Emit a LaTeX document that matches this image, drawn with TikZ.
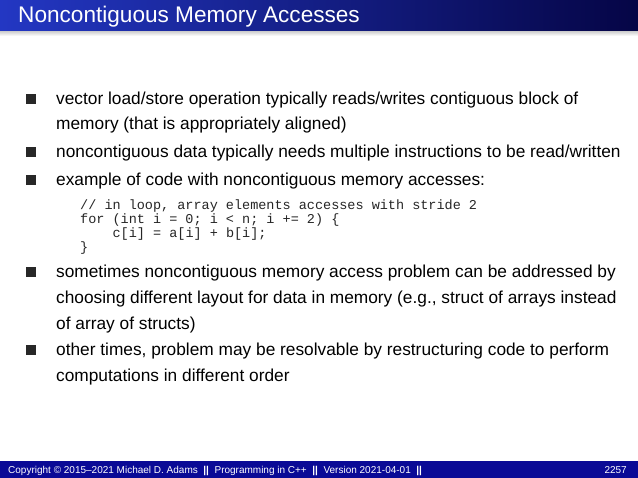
\documentclass[tikz,border=0pt]{standalone}
\usepackage{fontspec}
\setmainfont{Liberation Sans}
\setmonofont{Liberation Mono}
\definecolor{hl}{RGB}{35,55,195}
\definecolor{hr}{RGB}{5,5,70}
\definecolor{foot}{RGB}{10,10,150}
\definecolor{bul}{RGB}{40,40,40}
\begin{document}
\begin{tikzpicture}[x=1pt,y=-1pt,
  txt/.style={anchor=base west,inner sep=0pt,font=\fontsize{17.3}{20}\selectfont},
  code/.style={anchor=base west,inner sep=0pt,text=black!85,font=\ttfamily\fontsize{13.5}{14}\selectfont},
  ft/.style={anchor=base west,inner sep=0pt,text=white,font=\fontsize{10}{11}\selectfont},
  bx/.style={fill=bul,minimum size=10.5pt,inner sep=0pt}]
\useasboundingbox (0,0) rectangle (638,478);
\fill[white] (0,0) rectangle (638,478);
\fill[top color=gray!40,bottom color=white] (0,31) rectangle (638,36);
\shade[left color=hl,right color=hr] (0,0) rectangle (638,31);
\node[anchor=base west,inner sep=0pt,text=white,font=\fontsize{22.6}{26}\selectfont] (title) at (18,23) {Noncontiguous Memory Accesses};
% bullets
\node[bx] (b1) at (31,99) {};
\node[bx] (b2) at (31,152) {};
\node[bx] (b3) at (31,180) {};
\node[bx] (b4) at (31,272) {};
\node[bx] (b5) at (31,350) {};
\node[txt] (l1) at (56,105) {vector load/store operation typically reads/writes contiguous block of};
\node[txt] (l2) at (56,130) {memory (that is appropriately aligned)};
\node[txt] (l3) at (56,158) {noncontiguous data typically needs multiple instructions to be read/written};
\node[txt] (l4) at (56,186) {example of code with noncontiguous memory accesses:};
\node[code] (c1) at (80,210) {// in loop, array elements accesses with stride 2};
\node[code] (c2) at (80,224) {for (int i = 0; i < n; i += 2) \{};
\node[code] (c3) at (80,238) {\ \ \ \ c[i] = a[i] + b[i];};
\node[code] (c4) at (80,252) {\}};
\node[txt] (l5) at (56,278) {sometimes noncontiguous memory access problem can be addressed by};
\node[txt] (l6) at (56,304) {choosing different layout for data in memory (e.g., struct of arrays instead};
\node[txt] (l7) at (56,330) {of array of structs)};
\node[txt] (l8) at (56,356) {other times, problem may be resolvable by restructuring code to perform};
\node[txt] (l9) at (56,382) {computations in different order};
% footer
\fill[foot] (0,461) rectangle (638,478);
\node[ft] (f1) at (8,473.5) {Copyright © 2015–2021 Michael D. Adams \ \textbf{||}\ \ Programming in C++ \ \textbf{||}\ \ Version 2021-04-01 \ \textbf{||}};
\node[ft,anchor=base east] (f2) at (627,473.5) {2257};
\end{tikzpicture}
\end{document}
